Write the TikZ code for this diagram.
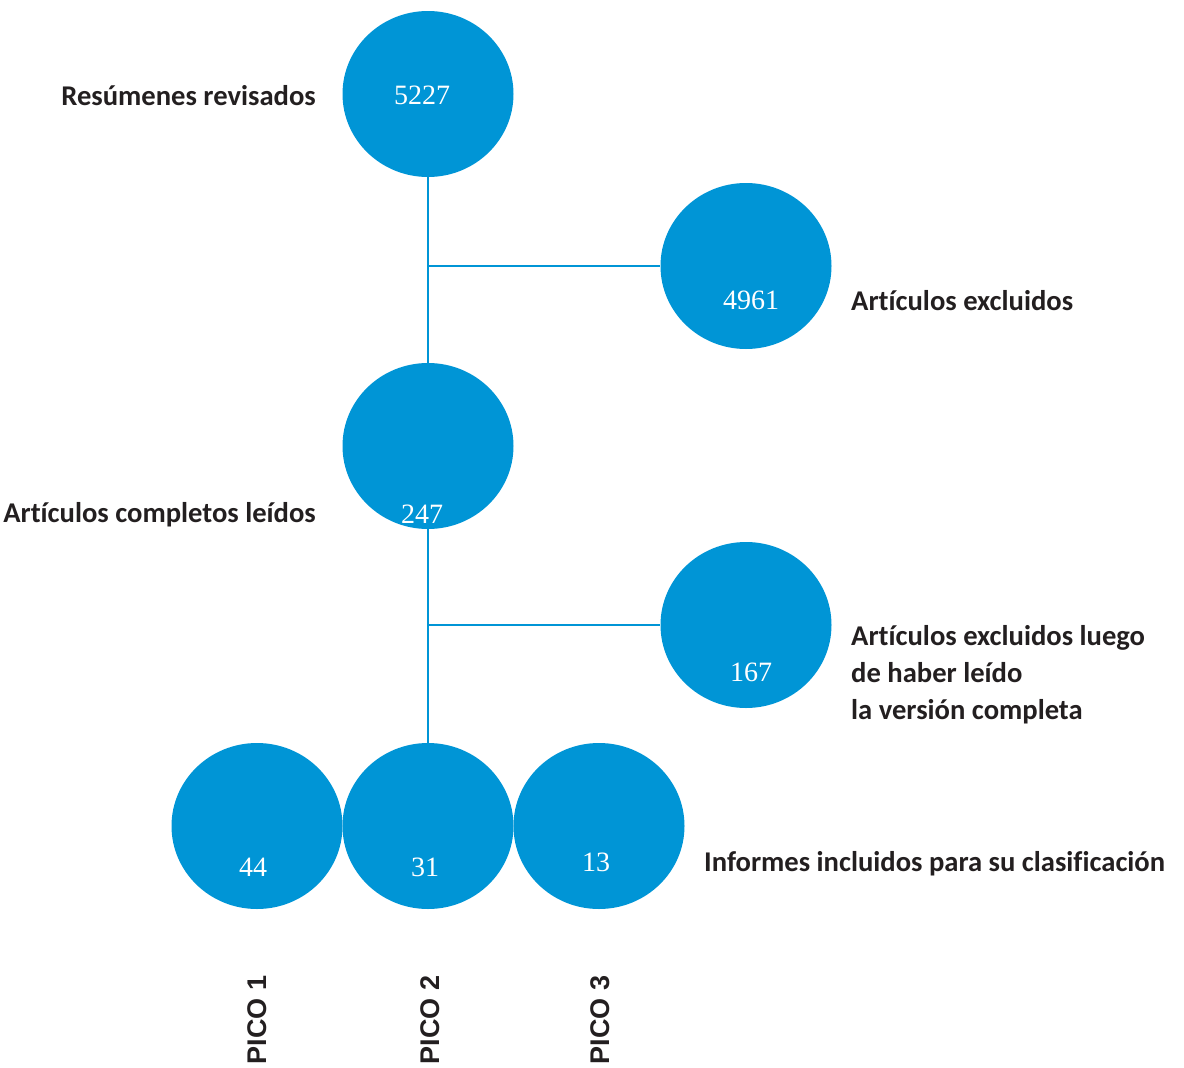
\documentclass[tikz,border=0pt]{standalone}
\usepackage{fontspec}
\usepackage{xcolor}
\usetikzlibrary{shapes.geometric}
\setmainfont{Liberation Serif}
\newfontfamily\labelfont[Ligatures=NoCommon]{Carlito}
\newfontfamily\picofont{Liberation Sans}
\definecolor{bubble}{HTML}{0095D6}
\definecolor{ink}{HTML}{231F20}

\begin{document}
\begin{tikzpicture}[x=1pt,y=-1pt]
    \tikzstyle{bubble}=[ellipse, fill=bubble, minimum width=171pt, minimum height=166pt, inner sep=0pt]
    \tikzstyle{num}=[text=white, font=\fontsize{28}{30}\selectfont, inner sep=0pt]
    \tikzstyle{caption}=[text=ink, font=\labelfont\bfseries\fontsize{28.6}{37}\selectfont, inner sep=0pt, align=left]
    \tikzstyle{pico}=[text=ink, font=\picofont\bfseries\fontsize{27}{28}\selectfont, inner sep=0pt, rotate=90]
    \tikzstyle{link}=[draw=bubble, line width=2pt]

    \useasboundingbox (0,0) rectangle (1184,1068);

    % circles
    \node[bubble] (resumenes) at (428,94) {};
    \node[bubble] (excluidos) at (746,266) {};
    \node[bubble] (completos) at (428,446) {};
    \node[bubble] (luego) at (746,625) {};
    \node[bubble] (pico1) at (257,826) {};
    \node[bubble] (pico2) at (428,826) {};
    \node[bubble] (pico3) at (599,826) {};

    % counts
    \node[num] (n5227) at (422,95) {5227};
    \node[num] (n4961) at (751,300) {4961};
    \node[num] (n247) at (422,514) {247};
    \node[num] (n167) at (751,672) {167};
    \node[num] (n44) at (253,867) {44};
    \node[num] (n31) at (425,867) {31};
    \node[num] (n13) at (596,862) {13};

    % captions
    \node[caption, anchor=east] (t1) at (316,96) {Resúmenes revisados};
    \node[caption, anchor=west] (t2) at (851,301) {Artículos excluidos};
    \node[caption, anchor=east] (t3) at (316,515) {Artículos completos leídos};
    \node[caption, anchor=west] (t4) at (851,675) {Artículos excluidos luego\\de haber leído\\la versión completa};
    \node[caption, anchor=west] (t5) at (704,864) {Informes incluidos para su clasificación};

    \node[pico] (p1) at (257,1020) {PICO 1};
    \node[pico] (p2) at (430,1020) {PICO 2};
    \node[pico] (p3) at (600,1020) {PICO 3};

    % connectors
    \coordinate (j1) at (428,266);
    \coordinate (j2) at (428,625);
    \draw [link] (resumenes.south) -- (completos.north);
    \draw [link] (j1) -- (excluidos.west);
    \draw [link] (completos.south) -- (pico2.north);
    \draw [link] (j2) -- (luego.west);
\end{tikzpicture}
\end{document}
